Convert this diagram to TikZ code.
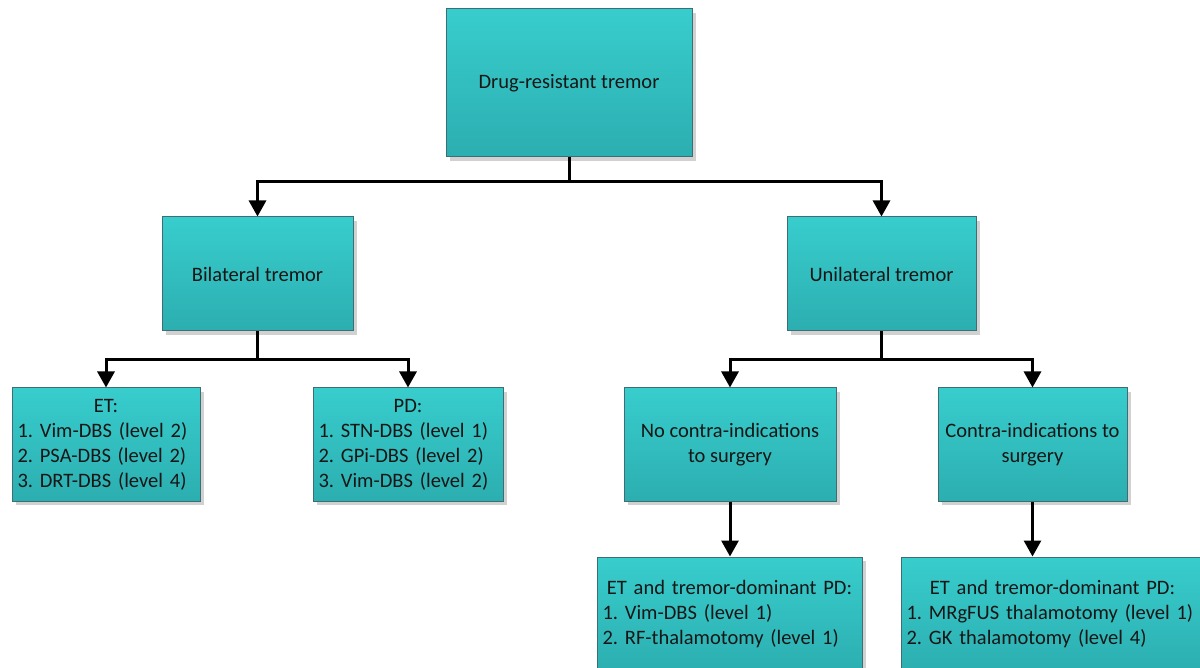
\documentclass[tikz,border=0pt]{standalone}
\usepackage{fontspec}
\setmainfont{Carlito}
\usetikzlibrary{arrows.meta,shadows}
\definecolor{boxtop}{RGB}{56,205,205}
\definecolor{boxbot}{RGB}{44,174,176}
\definecolor{boxline}{RGB}{62,110,116}
\definecolor{txt}{RGB}{22,22,22}
\frenchspacing
\begin{document}
\begin{tikzpicture}[x=1pt,y=-1pt,
  box/.style={draw=boxline, line width=1pt, top color=boxtop, bottom color=boxbot,
    inner sep=0pt, minimum height=113pt, font=\fontsize{20.5}{25}\selectfont\frenchspacing,
    text=txt, align=center,
    drop shadow={shadow xshift=4pt, shadow yshift=-4pt, opacity=0.18, fill=black}},
  listbox/.style={box, align=left, inner xsep=5.5pt},
  conn/.style={line width=3pt, -{Triangle[width=17pt,length=16pt]}}]
\useasboundingbox (0,0) rectangle (1200,668);
\clip (0,0) rectangle (1200,668);

\node[box, minimum width=246pt, minimum height=148pt] (top) at (569,83) {Drug-resistant tremor};
\node[box, minimum width=191pt, minimum height=114pt] (bil) at (257.5,274) {Bilateral tremor};
\node[box, minimum width=189pt, minimum height=114pt] (uni) at (881.5,274) {Unilateral tremor};

\node[listbox, text width=177pt] (et) at (106,444.5)
  {\makebox[\hsize][c]{ET:}\\1. Vim-DBS (level 2)\\2. PSA-DBS (level 2)\\3. DRT-DBS (level 4)};
\node[listbox, text width=179pt] (pd) at (408,444.5)
  {\makebox[\hsize][c]{PD:}\\1. STN-DBS (level 1)\\2. GPi-DBS (level 2)\\3. Vim-DBS (level 2)};
\node[box, minimum width=212pt] (noc) at (730,444.5) {No contra-indications\\to surgery};
\node[box, minimum width=189pt] (con) at (1032.5,444.5) {Contra-indications to\\surgery};

\node[listbox, text width=254pt, minimum height=115pt] (bl) at (729.5,614.5)
  {\makebox[\hsize][c]{ET and tremor-dominant PD:}\\1. Vim-DBS (level 1)\\2. RF-thalamotomy (level 1)};
\node[listbox, text width=292pt, minimum height=115pt] (br) at (1052.5,614.5)
  {\makebox[\hsize][c]{ET and tremor-dominant PD:}\\1. MRgFUS thalamotomy (level 1)\\2. GK thalamotomy (level 4)};

\draw[conn] (top.south) -- ++(0,24) -| (bil.north);
\draw[conn] (top.south) -- ++(0,24) -| (uni.north);
\draw[conn] (bil.south) -- ++(0,28) -| (et.north);
\draw[conn] (bil.south) -- ++(0,28) -| (pd.north);
\draw[conn] (uni.south) -- ++(0,28) -| (noc.north);
\draw[conn] (uni.south) -- ++(0,28) -| (con.north);
\draw[conn] (noc.south) -- (noc.south |- bl.north);
\draw[conn] (con.south) -- (con.south |- br.north);
\end{tikzpicture}
\end{document}
